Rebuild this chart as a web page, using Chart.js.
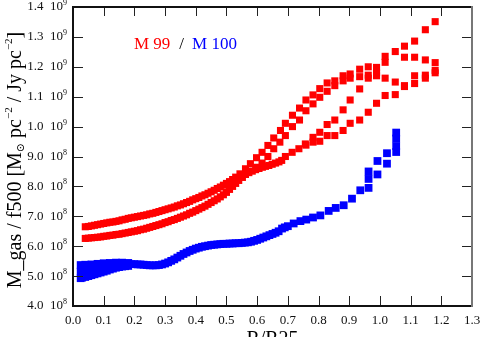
<!DOCTYPE html>
<html>
<head>
<meta charset="utf-8">
<script src="https://cdn.jsdelivr.net/npm/chart.js@4/dist/chart.umd.min.js"></script>
<style>
  body { margin: 0; background: #fff; }
  #wrap { position: relative; width: 481px; height: 337px; }
  #wrap canvas { position: absolute; left: 0; top: 0; }
  #frame { pointer-events: none; }
</style>
</head>
<body>
<div id="wrap">
  <canvas id="chart" width="481" height="337"></canvas>
  <canvas id="frame" width="481" height="337"></canvas>
</div>
<script>
// ===================
// Data (y values in units of 1e8)
// ===================

// M 99, upper track
const m99aX = [0.04,0.05,0.06,0.07,0.08,0.09,0.10,0.11,0.12,0.13,0.14,0.15,0.16,0.17,0.18,0.19,0.20,0.21,0.22,0.23,0.24,0.25,0.26,0.27,0.28,0.29,0.30,0.31,0.32,0.33,0.34,0.35,0.36,0.37,0.38,0.39,0.40,0.41,0.42,0.43,0.44,0.45,0.46,0.47,0.48,0.49,0.50,0.51,0.52,0.53,0.544,0.562,0.578,0.598,0.616,0.635,0.654,0.676,0.692,0.715,0.738,0.759,0.782,0.804,0.828,0.853,0.880,0.903,0.934,0.962,0.989,1.017,1.05,1.08,1.113,1.148,1.18];
const m99aY = [6.65,6.66,6.68,6.70,6.72,6.74,6.76,6.78,6.80,6.81,6.83,6.85,6.88,6.90,6.93,6.95,6.97,6.99,7.01,7.03,7.05,7.08,7.10,7.13,7.16,7.19,7.22,7.25,7.28,7.31,7.35,7.38,7.42,7.46,7.50,7.55,7.59,7.63,7.68,7.72,7.77,7.82,7.87,7.93,7.98,8.04,8.10,8.16,8.23,8.31,8.42,8.59,8.76,8.96,9.14,9.37,9.62,9.87,10.11,10.38,10.62,10.89,11.06,11.27,11.46,11.53,11.70,11.76,11.92,12.00,11.98,12.35,12.51,12.69,12.86,13.24,13.51];

// M 99, upper track second row
const m99bX = [0.598,0.616,0.635,0.654,0.674,0.692,0.715,0.738,0.759,0.782,0.804,0.828,0.853,0.880,0.903,0.934,0.962,0.989,1.017,1.08,1.113,1.148,1.18];
const m99bY = [8.64,8.78,9.00,9.26,9.48,9.70,10.00,10.22,10.53,10.76,10.98,11.18,11.37,11.53,11.62,11.67,11.72,11.80,12.15,12.32,12.32,12.23,12.14];

// M 99, lower track
const m99cX = [0.04,0.05,0.06,0.07,0.08,0.09,0.10,0.11,0.12,0.13,0.14,0.15,0.16,0.17,0.18,0.19,0.20,0.21,0.22,0.23,0.24,0.25,0.26,0.27,0.28,0.29,0.30,0.31,0.32,0.33,0.34,0.35,0.36,0.37,0.38,0.39,0.40,0.41,0.42,0.43,0.44,0.45,0.46,0.47,0.48,0.49,0.50,0.51,0.52,0.53,0.54,0.552,0.562,0.573,0.584,0.595,0.606,0.617,0.627,0.638,0.649,0.66,0.671,0.68,0.692,0.714,0.736,0.757,0.782,0.804,0.828,0.853,0.880,0.903,0.934,0.962,0.989,1.017,1.05,1.08,1.113,1.148,1.18];
const m99cY = [6.26,6.27,6.28,6.29,6.30,6.31,6.33,6.34,6.36,6.37,6.39,6.40,6.42,6.44,6.46,6.48,6.50,6.52,6.55,6.57,6.60,6.63,6.66,6.69,6.72,6.75,6.79,6.82,6.86,6.89,6.93,6.97,7.01,7.05,7.10,7.14,7.19,7.24,7.29,7.34,7.40,7.46,7.52,7.58,7.65,7.72,7.80,7.90,8.00,8.10,8.20,8.30,8.40,8.46,8.51,8.56,8.60,8.64,8.67,8.70,8.74,8.78,8.82,8.87,9.00,9.14,9.26,9.42,9.64,9.81,10.07,10.22,10.56,10.89,11.26,11.62,11.70,11.62,11.49,11.37,11.70,11.72,11.88];

// M 99, lower track second row
const m99dX = [0.759,0.782,0.804,0.828,0.853,0.880,0.903,0.934,0.962,0.989,1.017,1.05,1.08,1.113,1.148,1.18];
const m99dY = [9.38,9.48,9.51,9.70,9.70,9.87,10.11,10.22,10.48,10.78,11.04,11.07,11.34,11.44,11.62,11.80];

// M 100, main row
const m100X = [0.025,0.03,0.04,0.05,0.06,0.07,0.08,0.09,0.10,0.11,0.12,0.13,0.14,0.15,0.16,0.17,0.18,0.19,0.20,0.21,0.22,0.23,0.24,0.25,0.26,0.27,0.28,0.29,0.30,0.31,0.32,0.33,0.34,0.35,0.36,0.37,0.38,0.39,0.40,0.41,0.42,0.43,0.44,0.45,0.46,0.47,0.48,0.49,0.50,0.51,0.52,0.53,0.54,0.55,0.56,0.57,0.58,0.59,0.60,0.61,0.62,0.63,0.64,0.65,0.66,0.67,0.681,0.69,0.70,0.719,0.741,0.76,0.782,0.806,0.833,0.856,0.882,0.909,0.936,0.963,0.963,0.963,0.992,0.992,1.023,1.023,1.053,1.053,1.053,1.053];
const m100Y = [5.15,5.17,5.19,5.21,5.23,5.25,5.27,5.29,5.31,5.33,5.35,5.36,5.37,5.38,5.39,5.40,5.40,5.40,5.40,5.39,5.39,5.38,5.37,5.36,5.36,5.36,5.37,5.39,5.42,5.46,5.51,5.56,5.62,5.68,5.74,5.79,5.84,5.88,5.92,5.95,5.98,6.00,6.02,6.04,6.05,6.06,6.07,6.08,6.08,6.09,6.09,6.10,6.10,6.11,6.12,6.13,6.15,6.18,6.21,6.25,6.29,6.33,6.37,6.41,6.45,6.50,6.59,6.63,6.67,6.76,6.84,6.89,6.96,7.03,7.18,7.28,7.37,7.59,7.87,7.95,8.25,8.50,8.40,8.85,8.76,9.11,9.15,9.35,9.60,9.80];

// M 100, inner spread (upper and lower edge)
const m100UpX = [0.025,0.04,0.06,0.08,0.10,0.12,0.14,0.16,0.18];
const m100UpY = [5.37,5.38,5.39,5.41,5.43,5.44,5.45,5.45,5.44];
const m100LoX = [0.025,0.03,0.04,0.05,0.06,0.07,0.08,0.09,0.10,0.11,0.12,0.13,0.14,0.15,0.16,0.17,0.18];
const m100LoY = [4.93,4.95,4.97,5.00,5.03,5.06,5.09,5.12,5.15,5.18,5.22,5.25,5.28,5.30,5.32,5.33,5.34];

const RED = '#ff0000';
const BLUE = '#0000ff';
const SERIF = '"Liberation Serif", "DejaVu Serif", serif';

function pts(xs, ys) {
  return xs.map((x, i) => ({ x: x, y: ys[i] }));
}

function series(xs, ys, color, r) {
  return {
    data: pts(xs, ys),
    pointStyle: 'rect',
    pointRadius: r,
    pointBorderWidth: 0,
    backgroundColor: color,
    borderColor: color,
    showLine: false
  };
}

// draw a run of [text, size, dy] pieces starting at x (left aligned)
function richText(ctx, parts, x, y) {
  parts.forEach(p => {
    ctx.font = p[1] + 'px ' + SERIF;
    ctx.fillText(p[0], x, y + (p[2] || 0));
    x += ctx.measureText(p[0]).width;
  });
  return x;
}

function richWidth(ctx, parts) {
  let w = 0;
  parts.forEach(p => {
    ctx.font = p[1] + 'px ' + SERIF;
    w += ctx.measureText(p[0]).width;
  });
  return w;
}

// box and inward ticks, taken from the chart's scales
function drawFrame(ctx, chart) {
  const a = chart.chartArea;
  const xs = chart.scales.x;
  const ys = chart.scales.y;
  const L = Math.round(a.left), Rt = Math.round(a.right);
  const T = Math.round(a.top), B = Math.round(a.bottom);
  ctx.save();
  ctx.globalAlpha = 1;
  ctx.globalCompositeOperation = 'source-over';

  ctx.fillStyle = '#222';
  xs.ticks.forEach(t => {
    const px = Math.round(xs.getPixelForValue(t.value));
    ctx.fillRect(px, B - 10, 1, 10);
    ctx.fillRect(px, T, 1, 9);
  });
  ys.ticks.forEach(t => {
    const py = Math.round(ys.getPixelForValue(t.value));
    ctx.fillRect(L, py, 10, 1);
    ctx.fillRect(Rt - 10, py, 10, 1);
  });

  ctx.fillStyle = '#111';
  ctx.fillRect(L - 1, T - 1, Rt - L + 1, 2);
  ctx.fillRect(L - 1, T - 1, 2, B - T + 2);
  ctx.fillRect(L - 1, B - 1, Rt - L + 2, 2);
  ctx.fillStyle = '#777';
  ctx.fillRect(Rt - 1, T - 1, 2, B - T + 2);
  ctx.restore();
}

// ===================
// Labels and titles
// ===================
const textPlugin = {
  id: 'texts',
  afterDraw(chart) {
    const ctx = chart.ctx;
    const a = chart.chartArea;
    const xs = chart.scales.x;
    const ys = chart.scales.y;
    drawFrame(ctx, chart);
    ctx.save();

    // tick labels
    ctx.fillStyle = '#111';
    ctx.textBaseline = 'middle';
    ctx.textAlign = 'center';
    ctx.font = '13px ' + SERIF;
    xs.ticks.forEach(t => {
      ctx.fillText(t.value.toFixed(1), xs.getPixelForValue(t.value), a.bottom + 15);
    });
    ctx.textAlign = 'left';
    ys.ticks.forEach(t => {
      const v = t.value;
      const mant = v >= 10 ? (v / 10).toFixed(1) : v.toFixed(1);
      const exp = v >= 10 ? '9' : '8';
      const parts = [[mant, 13], ['  10', 13], [exp, 8, -4]];
      richText(ctx, parts, a.left - 6 - richWidth(ctx, parts), ys.getPixelForValue(v));
    });

    // legend text
    ctx.font = '17px ' + SERIF;
    ctx.textBaseline = 'alphabetic';
    let lx = 134;
    const ly = 49;
    ctx.fillStyle = RED;
    ctx.fillText('M 99', lx, ly);
    lx += ctx.measureText('M 99').width + 9;
    ctx.fillStyle = '#000';
    ctx.fillText('/', lx, ly);
    lx += ctx.measureText('/').width + 8;
    ctx.fillStyle = BLUE;
    ctx.fillText('M 100', lx, ly);

    // axis titles
    ctx.fillStyle = '#000';
    ctx.font = '20px ' + SERIF;
    ctx.textAlign = 'center';
    ctx.textBaseline = 'top';
    ctx.fillText('R/R25', (a.left + a.right) / 2, 330);

    const title = [
      ['M_gas / f500 [M', 20], ['\u2299', 11, 5], [' pc', 20], ['\u22122', 11, -7],
      [' / Jy pc', 20], ['\u22122', 11, -7], [']', 20]
    ];
    ctx.textAlign = 'left';
    ctx.textBaseline = 'middle';
    ctx.translate(16, 160);
    ctx.rotate(-Math.PI / 2);
    richText(ctx, title, -richWidth(ctx, title) / 2, 0);
    ctx.restore();
  }
};

// ===================
// Chart
// ===================
const chart = new Chart(document.getElementById('chart').getContext('2d'), {
  type: 'scatter',
  data: {
    datasets: [
      series(m100LoX, m100LoY, BLUE, 5.5),
      series(m100UpX, m100UpY, BLUE, 5.5),
      series(m100X, m100Y, BLUE, 5.5),
      series(m99dX, m99dY, RED, 5),
      series(m99cX, m99cY, RED, 5),
      series(m99bX, m99bY, RED, 5),
      series(m99aX, m99aY, RED, 5)
    ]
  },
  options: {
    responsive: false,
    animation: false,
    layout: { padding: { top: 7, right: 9, left: 0, bottom: 0 } },
    plugins: { legend: { display: false }, tooltip: { enabled: false } },
    scales: {
      x: {
        type: 'linear',
        min: 0, max: 1.3,
        grid: { display: false },
        border: { display: false },
        afterFit(scale) { scale.height = 31; },
        ticks: { stepSize: 0.1, display: false }
      },
      y: {
        type: 'linear',
        min: 4, max: 14,
        grid: { display: false },
        border: { display: false },
        afterFit(scale) { scale.width = 73; },
        ticks: { stepSize: 1, display: false }
      }
    }
  },
  plugins: [textPlugin]
});

// same frame again on a clean overlay canvas
drawFrame(document.getElementById('frame').getContext('2d'), chart);
</script>
</body>
</html>
